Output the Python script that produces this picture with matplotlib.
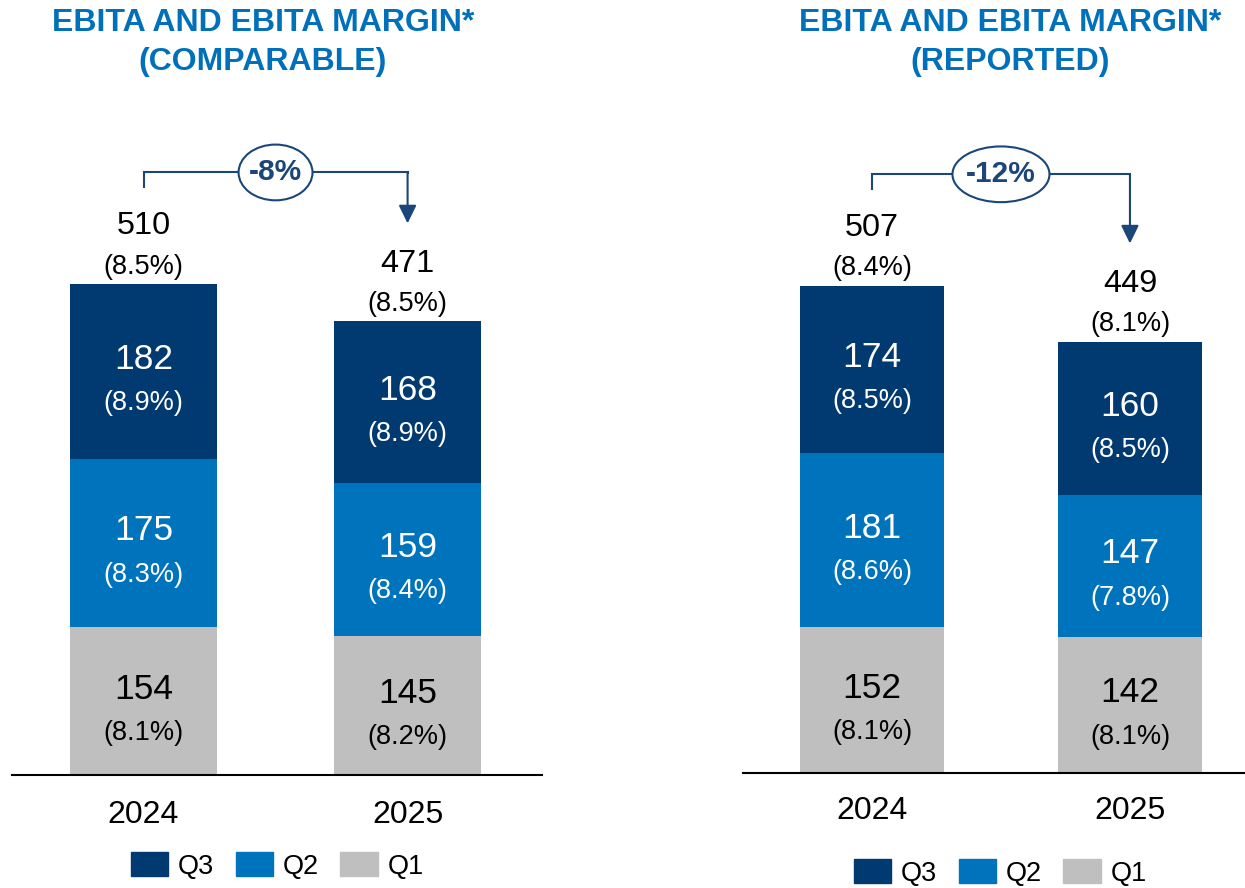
import matplotlib
matplotlib.use("Agg")
import matplotlib.pyplot as plt
from matplotlib.patches import Ellipse, Patch

plt.rcParams["font.family"] = ["Liberation Sans", "DejaVu Sans"]

# data
years = ["2024", "2025"]

comp_q1 = [154, 145]
comp_q2 = [175, 159]
comp_q3 = [182, 168]
comp_q1_margin = ["8.1%", "8.2%"]
comp_q2_margin = ["8.3%", "8.4%"]
comp_q3_margin = ["8.9%", "8.9%"]
comp_total = [510, 471]
comp_total_margin = ["8.5%", "8.5%"]
comp_change = "-8%"

rep_q1 = [152, 142]
rep_q2 = [181, 147]
rep_q3 = [174, 160]
rep_q1_margin = ["8.1%", "8.1%"]
rep_q2_margin = ["8.6%", "7.8%"]
rep_q3_margin = ["8.5%", "8.5%"]
rep_total = [507, 449]
rep_total_margin = ["8.4%", "8.1%"]
rep_change = "-12%"

titles = [["EBITA AND EBITA MARGIN*", "(COMPARABLE)"],
          ["EBITA AND EBITA MARGIN*", "(REPORTED)"]]

NAVY = "#003A70"
BLUE = "#0073BD"
GREY = "#BFBFBF"
TITLE_BLUE = "#0070BA"
LINE = "#1A467A"

W, H = 1245, 888
PX = 0.961  # pixels per unit


def px_axes(fig, left, right, base, top=100):
    ax = fig.add_axes([left / W, (H - base) / H, (right - left) / W, (base - top) / H])
    ax.set_ylim(0, (base - top) / PX)
    return ax


def draw_panel(ax, xlim, q_vals, q_margins, totals, total_margins, change, ell_w, year_off):
    x = [0, 1]
    bottoms = [0, 0]
    colors = [GREY, BLUE, NAVY]
    txt_colors = ["black", "white", "white"]
    for vals, margins, c, tc in zip(q_vals, q_margins, colors, txt_colors):
        ax.bar(x, vals, width=0.557, bottom=bottoms, color=c, zorder=2)
        for i in x:
            mid = bottoms[i] + vals[i] / 2
            ax.annotate(str(vals[i]), (i, mid), xytext=(0, 8.6), textcoords="offset points",
                        ha="center", va="center", fontsize=25.5, color=tc)
            ax.annotate("(" + margins[i] + ")", (i, mid), xytext=(0, -23), textcoords="offset points",
                        ha="center", va="center", fontsize=19.5, color=tc)
        bottoms = [b + v for b, v in zip(bottoms, vals)]

    for i in x:
        ax.annotate(str(totals[i]), (i, bottoms[i]), xytext=(0, 41.5), textcoords="offset points",
                    ha="center", va="center", fontsize=23.3)
        ax.annotate("(" + total_margins[i] + ")", (i, bottoms[i]), xytext=(0, 12.5), textcoords="offset points",
                    ha="center", va="center", fontsize=19.5)
        ax.annotate(years[i], (i, 0), xytext=(0, year_off), textcoords="offset points",
                    ha="center", va="center", fontsize=23)

    # change bracket
    ybr = bottoms[0] + 116
    tip = bottoms[1] + 102
    ax.plot([0, 0, 1, 1], [ybr - 15, ybr, ybr, ybr - 1], color=LINE, lw=1.5, zorder=3,
            solid_joinstyle="miter")
    ax.annotate("", xy=(1, tip), xytext=(1, ybr),
                arrowprops=dict(arrowstyle="-|>,head_length=0.55,head_width=0.27",
                                mutation_scale=20, shrinkA=0, shrinkB=0, lw=1.5, color=LINE),
                zorder=3)
    ax.add_patch(Ellipse((0.5, ybr), ell_w, 58, facecolor="white", edgecolor=LINE, lw=1.5, zorder=4))
    ax.text(0.5, ybr, change, ha="center", va="center", fontsize=21.5, fontweight="bold",
            color=LINE, zorder=5)

    ax.set_xlim(*xlim)
    for s in ["top", "right", "left"]:
        ax.spines[s].set_visible(False)
    ax.spines["bottom"].set_linewidth(1.5)
    ax.set_xticks([])
    ax.set_yticks([])


fig = plt.figure(figsize=(W / 100, H / 100), dpi=100)

ax1 = px_axes(fig, 12, 542, 775)
draw_panel(ax1, (-0.498, 1.509), [comp_q1, comp_q2, comp_q3],
           [comp_q1_margin, comp_q2_margin, comp_q3_margin],
           comp_total, comp_total_margin, comp_change, 0.28, -29)

ax2 = px_axes(fig, 743, 1245, 773)
draw_panel(ax2, (-0.5, 1.446), [rep_q1, rep_q2, rep_q3],
           [rep_q1_margin, rep_q2_margin, rep_q3_margin],
           rep_total, rep_total_margin, rep_change, 0.376, -27.5)

for cx, lines in zip([263, 1010], titles):
    fig.text(cx / W, 1 - 23 / H, lines[0], ha="center", va="center", fontsize=23,
             fontweight="bold", color=TITLE_BLUE)
    fig.text(cx / W, 1 - 62 / H, lines[1], ha="center", va="center", fontsize=23,
             fontweight="bold", color=TITLE_BLUE)

handles = [Patch(color=NAVY), Patch(color=BLUE), Patch(color=GREY)]
for lx, ly in [(131, 866), (854, 873)]:
    fig.legend(handles, ["Q3", "Q2", "Q1"], loc="center left",
               bbox_to_anchor=(lx / W, 1 - ly / H), ncol=3, frameon=False,
               fontsize=19.5, handlelength=1.37, handleheight=0.97,
               handletextpad=0.36, columnspacing=0.8, borderpad=0, borderaxespad=0)

fig.savefig("out.png", dpi=100)
